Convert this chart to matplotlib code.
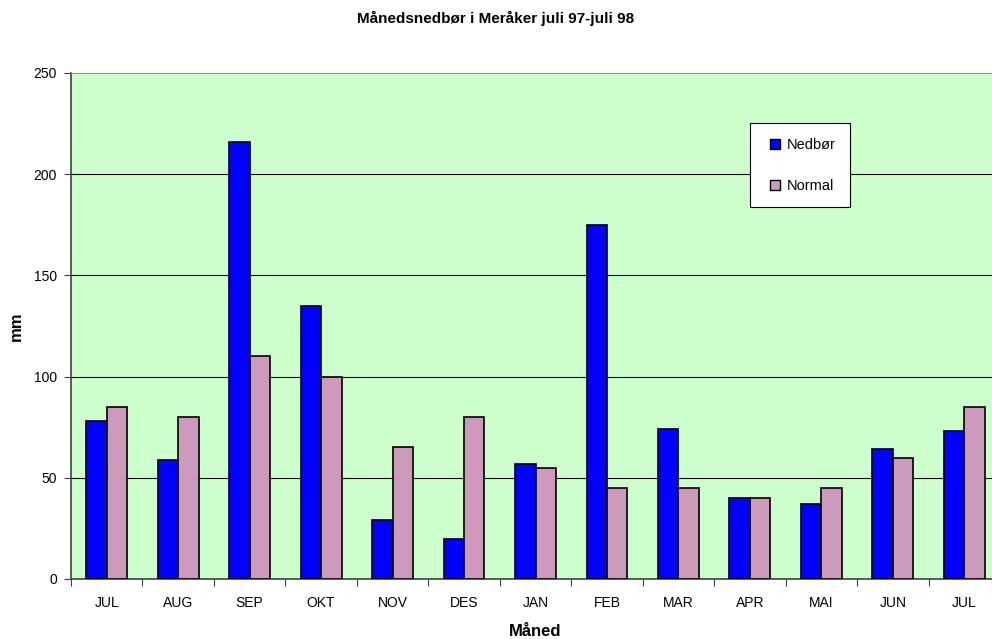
import numpy as np
import matplotlib.pyplot as plt
from matplotlib.lines import Line2D

plt.rcParams['font.family'] = ['Liberation Sans', 'DejaVu Sans']

# monthly precipitation in Meraaker, july 97 - july 98
months = ['JUL', 'AUG', 'SEP', 'OKT', 'NOV', 'DES', 'JAN', 'FEB', 'MAR', 'APR', 'MAI', 'JUN', 'JUL']
nedbor = [78, 59, 216, 135, 29, 20, 57, 175, 74, 40, 37, 64, 73]
normal = [85, 80, 110, 100, 65, 80, 55, 45, 45, 40, 45, 60, 85]
yticks = [0, 50, 100, 150, 200, 250]

blue = '#0000ff'
pink = '#cc9bbb'

fig = plt.figure(figsize=(9.92, 6.39), dpi=100)
ax = fig.add_axes([71/992, 1 - 579/639, (1000 - 71)/992, (579 - 73)/639])
ax.set_facecolor('#ccffcc')

x = np.arange(len(months))
w = 0.286
ax.bar(x - w/2, nedbor, w, color=blue, edgecolor='black', linewidth=1.2, zorder=3)
ax.bar(x + w/2, normal, w, color=pink, edgecolor='black', linewidth=1.2, zorder=3)

ax.set_xlim(-0.5, len(months) - 0.5)
ax.set_ylim(0, 250)
ax.set_yticks(yticks)
ax.set_yticklabels([str(v) for v in yticks], fontsize=10)
for v in yticks[1:-1]:
    ax.axhline(v, color='black', linewidth=0.8, zorder=1)

# category boundaries as ticks, labels at centres
ax.set_xticks(np.arange(-0.5, len(months), 1.0))
ax.set_xticklabels([])
ax.set_xticks(x, minor=True)
ax.set_xticklabels(months, minor=True, fontsize=10)
ax.tick_params(axis='x', which='minor', length=0, pad=12)
ax.tick_params(axis='x', which='major', length=5, direction='out', color='#404040')
ax.tick_params(axis='y', length=5, direction='out', color='#404040', pad=5)

for s in ['left', 'bottom']:
    ax.spines[s].set_color('#404040')
    ax.spines[s].set_linewidth(1.2)
ax.spines['top'].set_color('#909090')
ax.spines['right'].set_visible(False)

ax.set_ylabel('mm', fontsize=12, fontweight='bold', labelpad=7)
ax.set_xlabel('Måned', fontsize=12, fontweight='bold', labelpad=10)
fig.text(0.5, 1 - 18/639, 'Månedsnedbør i Meråker juli 97-juli 98', ha='center', va='center',
         fontsize=11, fontweight='bold')

handles = [Line2D([], [], marker='s', linestyle='none', markersize=7, markerfacecolor=blue,
                  markeredgecolor='black'),
           Line2D([], [], marker='s', linestyle='none', markersize=7, markerfacecolor=pink,
                  markeredgecolor='black')]
leg = ax.legend(handles, ['Nedbør', 'Normal'], loc='upper left', bbox_to_anchor=(0.731, 0.901),
                fontsize=10.5, frameon=True, fancybox=False, edgecolor='black', labelspacing=1.85,
                handletextpad=0.1, borderpad=1.0, handlelength=1.4, borderaxespad=0, framealpha=1)
leg.get_frame().set_linewidth(0.8)

plt.savefig('out.png', dpi=100)
